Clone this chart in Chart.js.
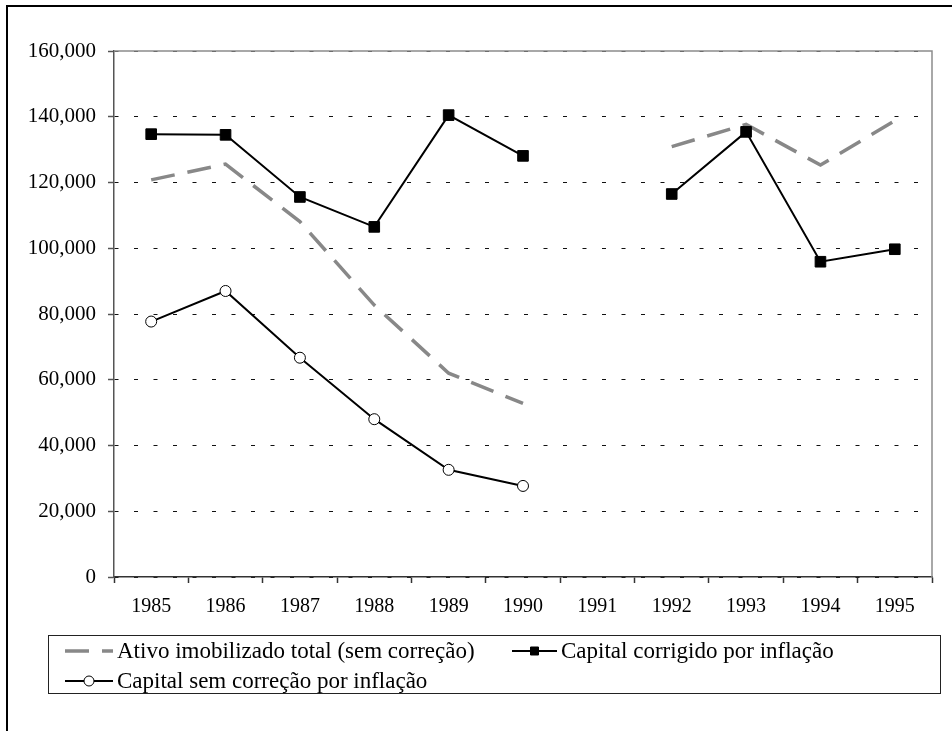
<!DOCTYPE html>
<html>
<head>
<meta charset="utf-8">
<title>Ativo imobilizado e capital</title>
<script src="https://cdn.jsdelivr.net/npm/chart.js@4/dist/chart.umd.min.js"></script>
<style>
  html, body { margin: 0; padding: 0; background: #fff; }
  canvas { display: block; }
</style>
</head>
<body>
<canvas id="my-chart" width="952" height="731"></canvas>
<script>
'use strict';

// *** Data ***

let years = ['1985', '1986', '1987', '1988', '1989', '1990', '1991', '1992', '1993', '1994', '1995'];
let ativoTotal = [120800, 125600, 108100, 82700, 62000, 52800, null, 130900, 137700, 125300, 138800];
let capitalCorrigido = [134700, 134500, 115600, 106500, 140500, 128100, null, 116500, 135400, 95900, 99700];
let capitalSemCorrecao = [77700, 87000, 66700, 48000, 32600, 27700, null, null, null, null, null];
let yTicks = [0, 20000, 40000, 60000, 80000, 100000, 120000, 140000, 160000];

let seriesNames = [
  'Ativo imobilizado total (sem correção)',
  'Capital corrigido por inflação',
  'Capital sem correção por inflação'
];

let serifFont = '"Liberation Serif", "Times New Roman", serif';

// *** Canvas Element ***

let ctx = document.getElementById('my-chart');

// *** Plugins ***

// outer frame and grey plot-area border (top and right)
let framePlugin = {
  id: 'frame',
  beforeDraw(chart) {
    let c = chart.ctx;
    c.save();
    c.fillStyle = '#fff';
    c.fillRect(0, 0, chart.width, chart.height);
    c.strokeStyle = '#000';
    c.lineWidth = 2;
    c.strokeRect(7, 6, chart.width + 20, chart.height + 20);
    c.restore();
  },
  beforeDatasetsDraw(chart) {
    let a = chart.chartArea;
    let c = chart.ctx;
    c.save();
    c.strokeStyle = '#8c8c8c';
    c.lineWidth = 1.5;
    c.beginPath();
    c.moveTo(a.left, a.top);
    c.lineTo(a.right, a.top);
    c.lineTo(a.right, a.bottom);
    c.stroke();
    c.restore();
  }
};

// legend drawn by hand: line sample + marker + text, Excel style
let legendPlugin = {
  id: 'excelLegend',
  afterDraw(chart) {
    let c = chart.ctx;
    let ds = chart.data.datasets;
    let items = [
      {d: ds[0], x: 65, y: 651},
      {d: ds[1], x: 512, y: 651},
      {d: ds[2], x: 65, y: 681}
    ];
    c.save();
    c.strokeStyle = '#222';
    c.lineWidth = 1;
    c.strokeRect(48.5, 635.5, 892, 58);

    items.forEach(function (it) {
      let d = it.d;
      let w = it.d === ds[1] ? 45 : 48;
      c.beginPath();
      c.setLineDash(d.borderDash || []);
      c.strokeStyle = d.borderColor;
      c.lineWidth = d.borderWidth;
      c.moveTo(it.x, it.y);
      c.lineTo(it.x + w, it.y);
      c.stroke();
      c.setLineDash([]);
      if (d.pointRadius > 0) {
        let mx = it.x + w / 2;
        c.fillStyle = d.pointBackgroundColor;
        c.strokeStyle = d.pointBorderColor;
        c.lineWidth = 1;
        c.beginPath();
        if (d.pointStyle === 'rect') {
          c.rect(mx - 4, it.y - 4, 8, 8);
        } else {
          c.arc(mx, it.y, 5, 0, Math.PI * 2);
        }
        c.fill();
        c.stroke();
      }
      c.fillStyle = '#000';
      c.font = '23px ' + serifFont;
      c.textBaseline = 'middle';
      c.textAlign = 'left';
      c.fillText(d.label, it.x + w + 4, it.y + 1);
    });
    c.restore();
  }
};

// *** Chart ***

let chartObj = {
  type: 'line',
  data: {
    labels: years,
    datasets: [
      {
        label: seriesNames[0],
        data: ativoTotal,
        borderColor: '#888888',
        borderWidth: 3.5,
        borderDash: [24, 13],
        pointRadius: 0,
        spanGaps: false,
        order: 3
      },
      {
        label: seriesNames[1],
        data: capitalCorrigido,
        borderColor: '#000',
        borderWidth: 2,
        pointStyle: 'rect',
        pointRadius: 7.5,
        pointBackgroundColor: '#000',
        pointBorderColor: '#000',
        pointBorderWidth: 1,
        spanGaps: false,
        order: 1
      },
      {
        label: seriesNames[2],
        data: capitalSemCorrecao,
        borderColor: '#000',
        borderWidth: 2,
        pointStyle: 'circle',
        pointRadius: 5.5,
        pointBackgroundColor: '#fff',
        pointBorderColor: '#000',
        pointBorderWidth: 1,
        spanGaps: false,
        order: 2
      }
    ]
  },
  options: {
    responsive: false,
    animation: false,
    layout: {
      padding: {top: 51, right: 20, left: 0, bottom: 0}
    },
    plugins: {
      legend: {display: false},
      tooltip: {enabled: false},
      title: {display: false}
    },
    scales: {
      x: {
        offset: true,
        grid: {
          offset: true,
          drawOnChartArea: false,
          drawTicks: true,
          tickLength: 6,
          tickColor: '#333',
          tickWidth: 1.5
        },
        border: {display: true, color: '#333', width: 1.5},
        ticks: {
          color: '#000',
          padding: 12,
          maxRotation: 0,
          autoSkip: false,
          font: {family: serifFont, size: 20}
        },
        afterFit(scale) {
          scale.height = 154;
        }
      },
      y: {
        min: 0,
        max: 160000,
        afterBuildTicks(scale) {
          scale.ticks = yTicks.map(v => ({value: v}));
        },
        grid: {
          color: '#111',
          lineWidth: 1,
          drawTicks: true,
          tickLength: 6,
          tickColor: '#555',
          tickWidth: 1.5,
          tickBorderDash: []
        },
        border: {display: true, color: '#555', width: 1.5, dash: [4, 15.5], dashOffset: 0},
        ticks: {
          color: '#000',
          padding: 12,
          font: {family: serifFont, size: 21},
          callback: v => v.toLocaleString('en-US')
        },
        afterFit(scale) {
          scale.width = 114;
        }
      }
    }
  },
  plugins: [framePlugin, legendPlugin]
};

new Chart(ctx, chartObj);
</script>
</body>
</html>
